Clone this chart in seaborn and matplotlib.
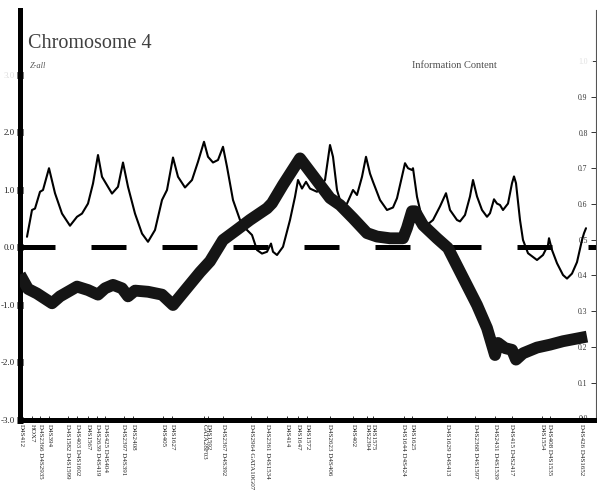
import matplotlib
matplotlib.use("Agg")
import matplotlib.pyplot as plt
import seaborn as sns
import pandas as pd
from matplotlib.patches import Rectangle

# ---------------- data ----------------
# marker map positions (map units along chromosome 4) and their labels
marker_pos = [1, 12, 20, 29, 48, 57, 68, 77, 85, 104, 113, 143, 152, 184, 188,
              203, 231, 247, 267, 278, 287, 310, 333, 347, 353, 384, 392, 427,
              455, 475, 492, 522, 530, 562]
marker_labels = ["D4S412", "HOX7", "D4S2366 D4S2935", "D4S394", "D4S1582 D4S1599",
                 "D4S403 D4S1602", "D4S1567", "D4S2639 D4S419", "D4S425 D4S404",
                 "D4S2397 D4S391", "D4S2408", "D4S405", "D4S1627", "GATA28F03",
                 "D4S1592", "D4S2367 D4S392", "D4S2964 GATA10G07", "D4S2361 D4S1534",
                 "D4S414", "D4S1647", "D4S1572", "D4S2623 D4S406", "D4S402",
                 "D4S2394", "D4S1575", "D4S1644 D4S424", "D4S1625", "D4S1629 D4S413",
                 "D4S2368 D4S1597", "D4S2431 D4S1539", "D4S415 D4S2417", "D4S1554",
                 "D4S408 D4S1535", "D4S426 D4S1652"]

# Z-all score (left axis)
z_pos = [0, 8, 17, 32, 40, 57, 68, 78, 85, 93, 102, 108, 115, 128, 142, 153,
         180, 190, 203, 217, 230, 247, 252, 263, 280, 290, 300, 310, 320, 333,
         347, 357, 370, 383, 387, 392, 395, 403, 417, 428, 440, 457, 467, 475,
         478, 485, 492, 496, 503, 517, 530, 543, 567]
z_val = [-0.47, -0.72, -0.80, -0.97, -0.85, -0.68, -0.74, -0.82, -0.71, -0.65,
         -0.71, -0.85, -0.75, -0.77, -0.82, -1.00, -0.43, -0.24, 0.13, 0.31,
         0.48, 0.68, 0.77, 1.09, 1.55, 1.32, 1.09, 0.86, 0.74, 0.51, 0.25, 0.19,
         0.16, 0.16, 0.34, 0.63, 0.63, 0.39, 0.16, -0.01, -0.42, -1.00, -1.40,
         -1.87, -1.66, -1.75, -1.78, -1.95, -1.84, -1.74, -1.69, -1.63, -1.55]

# information content (right axis)
ic_pos = [7, 12, 15, 20, 23, 29, 35, 42, 50, 57, 62, 68, 73, 78, 82, 92, 98,
          103, 108, 115, 122, 128, 135, 142, 147, 153, 158, 165, 172, 178, 184,
          188, 193, 198, 203, 207, 213, 220, 227, 232, 237, 242, 247, 251, 253,
          257, 263, 270, 275, 278, 282, 286, 290, 297, 305, 310, 313, 317, 322,
          327, 333, 337, 342, 346, 350, 353, 360, 367, 373, 377, 382, 385, 388,
          392, 393, 397, 402, 407, 413, 420, 426, 430, 437, 440, 445, 450, 453,
          457, 462, 467, 470, 474, 477, 480, 483, 488, 492, 494, 496, 500, 503,
          508, 517, 523, 528, 529, 532, 537, 543, 547, 552, 557, 562, 564, 566]
ic_val = [0.508, 0.583, 0.587, 0.634, 0.639, 0.700, 0.630, 0.573, 0.539, 0.564,
          0.573, 0.601, 0.657, 0.737, 0.676, 0.629, 0.648, 0.716, 0.648, 0.573,
          0.517, 0.494, 0.527, 0.611, 0.639, 0.730, 0.676, 0.646, 0.667, 0.718,
          0.774, 0.732, 0.716, 0.723, 0.760, 0.704, 0.611, 0.555, 0.527, 0.513,
          0.471, 0.461, 0.466, 0.489, 0.466, 0.457, 0.480, 0.555, 0.620, 0.667,
          0.643, 0.662, 0.643, 0.634, 0.667, 0.765, 0.732, 0.639, 0.592, 0.601,
          0.639, 0.625, 0.676, 0.732, 0.685, 0.662, 0.611, 0.583, 0.590, 0.616,
          0.677, 0.714, 0.700, 0.695, 0.700, 0.620, 0.560, 0.541, 0.555, 0.593,
          0.630, 0.583, 0.555, 0.551, 0.569, 0.621, 0.667, 0.621, 0.583, 0.564,
          0.574, 0.613, 0.601, 0.597, 0.583, 0.601, 0.658, 0.677, 0.658, 0.555,
          0.499, 0.462, 0.443, 0.457, 0.485, 0.504, 0.471, 0.434, 0.401, 0.391,
          0.405, 0.437, 0.499, 0.518, 0.532]

z_ticks = [-3, -2, -1, 0, 1, 2, 3]
z_ticklabels = ["-3.0", "-2.0", "-1.0", "0.0", "1.0", "2.0", "3.0"]
ic_ticks = [0.0, 0.1, 0.2, 0.3, 0.4, 0.5, 0.6, 0.7, 0.8, 0.9, 1.0]
ic_ticklabels = ["0.0", "0.1", "0.2", "0.3", "0.4", "0.5", "0.6", "0.7", "0.8", "0.9", "1.0"]

title = "Chromosome 4"
subtitle = "Z-all"
right_title = "Information Content"

# ---------------- plot ----------------
sns.set_theme(style="white")
plt.rcParams['font.family'] = ['Liberation Serif', 'DejaVu Serif']

W, H = 597, 490
fig = plt.figure(figsize=(W / 100, H / 100), dpi=100)
ax = fig.add_axes([20 / W, 70 / H, 576 / W, 410 / H])
ax2 = ax.twinx()

z_df = pd.DataFrame({"pos": z_pos, "z": z_val})
ic_df = pd.DataFrame({"pos": ic_pos, "ic": ic_val})

sns.lineplot(data=ic_df, x="pos", y="ic", ax=ax2, sort=False, estimator=None,
             color="black", linewidth=1.5)
ax.axhline(0, color="black", linewidth=3.6, dashes=(7, 7.2), zorder=1)
sns.lineplot(data=z_df, x="pos", y="z", ax=ax, sort=False, estimator=None,
             color="#151515", linewidth=8.5, solid_joinstyle="round",
             solid_capstyle="butt", zorder=3)

ax.set_zorder(ax2.get_zorder() + 1)
ax.patch.set_visible(False)

ax.set_xlim(0, 576)
ax.set_ylim(-3.0, 4.13)
ax2.set_ylim(-0.005, 1.143)

# left axis
ax.set_yticks(z_ticks)
ax.set_yticklabels(z_ticklabels, fontsize=6.5, color="#222222")
ax.tick_params(axis="y", direction="inout", length=5, width=5, pad=1.5,
               color="black", left=True)
# bottom axis
ax.set_xticks(marker_pos)
ax.set_xticklabels(marker_labels, rotation=-90, fontsize=5, color="#222222")
ax.tick_params(axis="x", direction="in", length=3, width=0.7, pad=3,
               color="#333333", bottom=True)
for s in ["top", "right"]:
    ax.spines[s].set_visible(False)
ax.spines["left"].set_linewidth(3.6)
ax.spines["left"].set_color("black")
ax.spines["bottom"].set_linewidth(3.6)
ax.spines["bottom"].set_color("black")
ax.set_xlabel("")
ax.set_ylabel("")

# right axis
ax2.set_yticks(ic_ticks)
ax2.set_yticklabels(ic_ticklabels, fontsize=5.5, color="#333333")
ax2.tick_params(axis="y", direction="in", length=3.5, width=0.7, pad=-6,
                color="#333333", right=True)
for lab in ax2.get_yticklabels():
    lab.set_horizontalalignment("right")
for s in ["top", "left", "bottom"]:
    ax2.spines[s].set_visible(False)
ax2.spines["right"].set_linewidth(0.8)
ax2.spines["right"].set_color("#555555")
ax2.set_ylabel("")
ax2.set_xlabel("")

# faded header boxes (leave the two spines untouched)
for x0, x1 in [(0, 16), (25, 593)]:
    fig.patches.append(Rectangle((x0 / W, (H - 92) / H), (x1 - x0) / W, (92 - 15) / H,
                                 transform=fig.transFigure, facecolor="white",
                                 edgecolor="none", alpha=0.85, zorder=5))
fig.text(28 / W, 1 - 43 / H, title, fontsize=14.5, color="#404040",
         ha="left", va="center", zorder=6)
fig.text(30 / W, 1 - 66 / H, subtitle, fontsize=6, style="italic",
         color="#555555", ha="left", va="center", zorder=6)
fig.text(454 / W, 1 - 65 / H, right_title, fontsize=7.5, color="#505050",
         ha="center", va="center", zorder=6)

fig.savefig("out.png", dpi=100)
